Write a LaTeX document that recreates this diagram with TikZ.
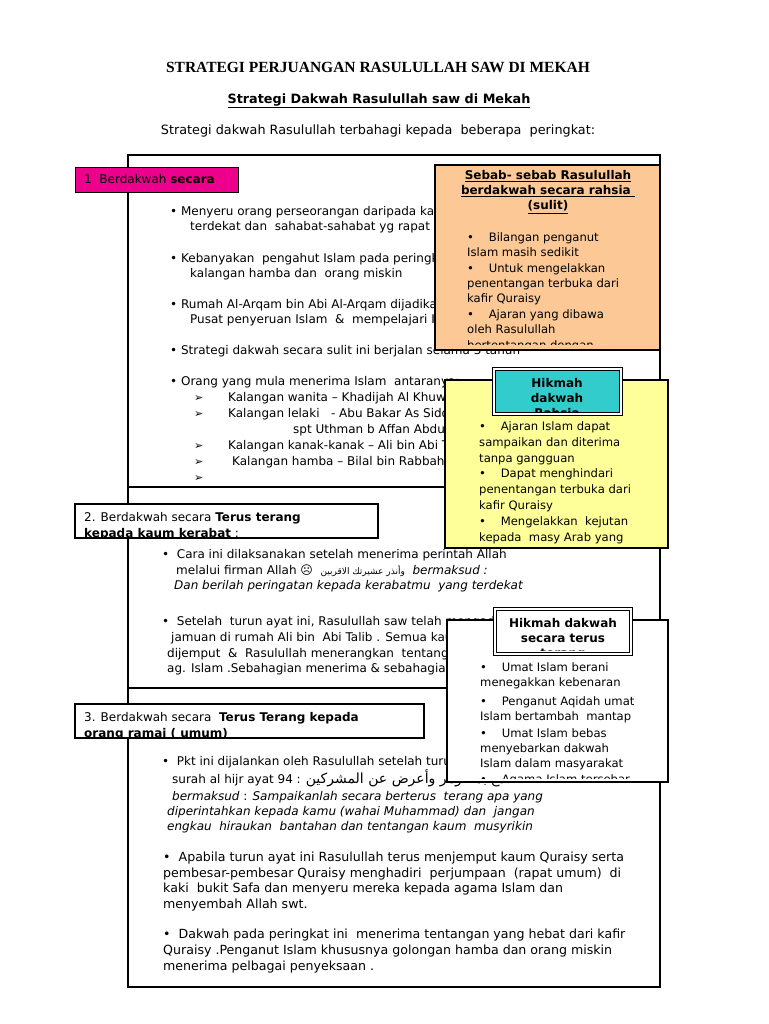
\documentclass[tikz,border=0pt]{standalone}
\usepackage{fontspec}
\setmainfont{DejaVu Sans}
\newfontfamily\serifhead{Liberation Serif}
\newfontfamily\arabicfont[Script=Arabic]{DejaVu Sans}
\TeXXeTstate=1
\definecolor{peach}{RGB}{252,200,150}
\definecolor{lyellow}{RGB}{255,255,153}
\definecolor{tealc}{RGB}{51,204,204}
\newcommand\tx[3]{\node[tt] at (#1,#2) {#3};}
\newcommand\bt[3]{\node[tb] at (#1,#2) {#3};}
\newcommand\lt[3]{\node[tl] at (#1,#2) {#3};}
\begin{document}
\begin{tikzpicture}[x=1pt,y=-1pt,
  tt/.style={anchor=base west,inner sep=0pt,font=\fontsize{12}{13}\selectfont},
  tl/.style={anchor=base west,inner sep=0pt,font=\fontsize{12.6}{13}\selectfont},
  tb/.style={anchor=base west,inner sep=0pt,font=\fontsize{11.6}{13}\selectfont}]
\useasboundingbox (0,0) rectangle (768,1024);
\node[inner sep=0,font=\serifhead\bfseries\fontsize{15.5}{16}\selectfont] (t1) at (378,67) {STRATEGI PERJUANGAN RASULULLAH SAW DI MEKAH};
\node[inner sep=0,font=\bfseries\fontsize{12.8}{14}\selectfont] (t2) at (379,101) {\underline{Strategi Dakwah Rasulullah saw di Mekah}};
\node[inner sep=0,font=\fontsize{12.8}{14}\selectfont] (t3) at (378,131) {Strategi dakwah Rasulullah terbahagi kepada\ \ beberapa\ \ peringkat:};
% main frame
\draw[line width=1.8pt] (128,155) rectangle (660,987);
\draw[line width=1.8pt] (128,487) -- (660,487);
\draw[line width=1.8pt] (128,688) -- (660,688);
% section 1 text
\tx{170}{215}{• Menyeru orang perseorangan daripada kaum keluarga}
\tx{190}{230}{terdekat dan\ \ sahabat-sahabat yg rapat}
\tx{170}{262}{• Kebanyakan\ \ pengahut Islam pada peringkat ini dari}
\tx{190}{277}{kalangan hamba dan\ \ orang miskin}
\tx{170}{308}{• Rumah Al-Arqam bin Abi Al-Arqam dijadikan}
\tx{190}{323}{Pusat penyeruan Islam\ \ \&\ \ mempelajari Islam}
\tx{170}{354}{• Strategi dakwah secara sulit ini berjalan selama 3 tahun}
\tx{170}{385}{• Orang yang mula menerima Islam\ \ antaranya:}
\foreach \yy in {401,417,449,465,481} {\node[tt,font=\fontsize{11}{12}\selectfont] at (194,\yy) {➢};}
\tx{228}{401}{Kalangan wanita – Khadijah Al Khuwailid}
\tx{228}{417}{Kalangan lelaki\ \ \ - Abu Bakar As Siddiq dan sahabat}
\tx{293}{433}{spt Uthman b Affan Abdul Rahman b Auf}
\tx{228}{449}{Kalangan kanak-kanak – Ali bin Abi Talib}
\tx{232}{465}{Kalangan hamba – Bilal bin Rabbah}
% section 2 text
\tx{162}{558}{•\ \ Cara ini dilaksanakan setelah menerima perintah Allah}
\tx{176}{574}{melalui firman Allah ☹\ \ {\arabicfont\fontsize{9}{10}\selectfont\beginR وأنذر عشيرتك الاقربين\endR}\ \ \textit{bermaksud :}}
\tx{174}{589}{\textit{Dan berilah peringatan kepada kerabatmu\ \ yang terdekat}}
\tx{162}{625}{•\ \ Setelah\ \ turun ayat ini, Rasulullah saw telah mengadakan}
\tx{171}{641}{jamuan di rumah Ali bin\ \ Abi Talib . Semua kaum kerabat}
\tx{167}{657}{dijemput\ \ \&\ \ Rasulullah menerangkan\ \ tentang}
\tx{167}{672}{ag. Islam .Sebahagian menerima \& sebahagian menolak}
% section 3 text
\tx{162}{765}{•\ \ Pkt ini dijalankan oleh Rasulullah setelah turun wahyu}
\tx{172}{783}{surah al hijr ayat 94 : {\arabicfont\fontsize{14}{15}\selectfont\beginR فاصدع بما تؤمر وأعرض عن المشركين\endR}}
\tx{172}{800}{\textit{bermaksud} : \textit{Sampaikanlah secara berterus\ \ terang apa yang}}
\tx{167}{815}{\textit{diperintahkan kepada kamu (wahai Muhammad) dan\ \ jangan}}
\tx{167}{830}{\textit{engkau\ \ hiraukan\ \ bantahan dan tentangan kaum\ \ musyrikin}}
\lt{163}{861}{•\ \ Apabila turun ayat ini Rasulullah terus menjemput kaum Quraisy serta}
\lt{163}{877}{pembesar-pembesar Quraisy menghadiri\ \ perjumpaan\ \ (rapat umum)\ \ di}
\lt{163}{892}{kaki\ \ bukit Safa dan menyeru mereka kepada agama Islam dan}
\lt{163}{908}{menyembah Allah swt.}
\lt{163}{938}{•\ \ Dakwah pada peringkat ini\ \ menerima tentangan yang hebat dari kafir}
\lt{163}{954}{Quraisy .Penganut Islam khususnya golongan hamba dan orang miskin}
\lt{163}{970}{menerima pelbagai penyeksaan .}
% magenta box
\node[draw=black,line width=1.1pt,fill=magenta,minimum width=163pt,minimum height=25pt,anchor=north west,inner sep=0] (m1) at (75,167) {};
\tx{84}{184}{1\ \ Berdakwah \textbf{secara}}
% orange box
\fill[peach] (435,165) rectangle (660,350);
\begin{scope}
\clip (435,165) rectangle (660,344);
\foreach \yy/\ss in {180/Sebab- sebab Rasulullah,195/berdakwah secara rahsia\ ,210/(sulit)} {\node[inner sep=0,anchor=base,font=\bfseries\fontsize{12}{13}\selectfont] at (548,\yy) {\underline{\ss}};}
\bt{467}{241}{•\ \ \ \ Bilangan penganut}
\bt{467}{256}{Islam masih sedikit}
\bt{467}{272}{•\ \ \ \ Untuk mengelakkan}
\bt{467}{287}{penentangan terbuka dari}
\bt{467}{302}{kafir Quraisy}
\bt{467}{318}{•\ \ \ \ Ajaran yang dibawa}
\bt{467}{333}{oleh Rasulullah}
\bt{467}{349}{bertentangan dengan}
\end{scope}
\draw[line width=1.1pt] (435,165) rectangle (660,350);
% yellow box
\fill[lyellow] (445,380) rectangle (668,548);
\begin{scope}
\clip (445,380) rectangle (668,546);
\bt{479}{430}{•\ \ \ \ Ajaran Islam dapat}
\bt{479}{446}{sampaikan dan diterima}
\bt{479}{462}{tanpa gangguan}
\bt{479}{477}{•\ \ \ \ Dapat menghindari}
\bt{479}{493}{penentangan terbuka dari}
\bt{479}{509}{kafir Quraisy}
\bt{479}{525}{•\ \ \ \ Mengelakkan\ \ kejutan}
\bt{479}{541}{kepada\ \ masy Arab yang}
\bt{479}{557}{jahil}
\end{scope}
\draw[line width=1.1pt] (445,380) rectangle (668,548);
% cyan box
\fill[tealc] (493,368) rectangle (622,415);
\begin{scope}
\clip (493,368) rectangle (622,411);
\foreach \yy/\ss in {387/Hikmah,402/dakwah,417/Rahsia} {\node[inner sep=0,anchor=base,font=\bfseries\fontsize{12}{13}\selectfont] at (557,\yy) {\ss};}
\end{scope}
\draw[double,double distance=2pt,line width=0.7pt] (494,369) rectangle (621,414);
% section 2 box
\fill[white] (75,504) rectangle (378,538);
\begin{scope}
\clip (75,504) rectangle (378,537);
\tx{84}{521}{2. Berdakwah secara \textbf{Terus terang}}
\tx{84}{537}{\textbf{kepada kaum kerabat} :}
\end{scope}
\draw[line width=1.1pt] (75,504) rectangle (378,538);
% white hikmah box
\fill[white] (447,620) rectangle (668,782);
\begin{scope}
\clip (447,620) rectangle (668,778);
\bt{480}{671}{•\ \ \ \ Umat Islam berani}
\bt{480}{686}{menegakkan kebenaran}
\bt{480}{705}{•\ \ \ \ Penganut Aqidah umat}
\bt{480}{720}{Islam bertambah\ \ mantap}
\bt{480}{737}{•\ \ \ \ Umat Islam bebas}
\bt{480}{752}{menyebarkan dakwah}
\bt{480}{767}{Islam dalam masyarakat}
\bt{480}{783}{•\ \ \ \ Agama Islam tersebar}
\end{scope}
\draw[line width=1.1pt] (447,620) rectangle (668,782);
\fill[white] (494,608) rectangle (632,655);
\begin{scope}
\clip (494,608) rectangle (632,650);
\foreach \yy/\ss in {627/Hikmah dakwah,642/secara terus,657/terang} {\node[inner sep=0,anchor=base,font=\bfseries\fontsize{12}{13}\selectfont] at (563,\yy) {\ss};}
\end{scope}
\draw[double,double distance=2pt,line width=0.7pt] (495,609) rectangle (631,654);
% section 3 box
\fill[white] (75,704) rectangle (424,738);
\begin{scope}
\clip (75,704) rectangle (424,737);
\tx{84}{721}{3. Berdakwah secara\ \ \textbf{Terus Terang kepada}}
\tx{84}{737}{\textbf{orang ramai ( umum)}}
\end{scope}
\draw[line width=1.1pt] (75,704) rectangle (424,738);
\end{tikzpicture}
\end{document}
